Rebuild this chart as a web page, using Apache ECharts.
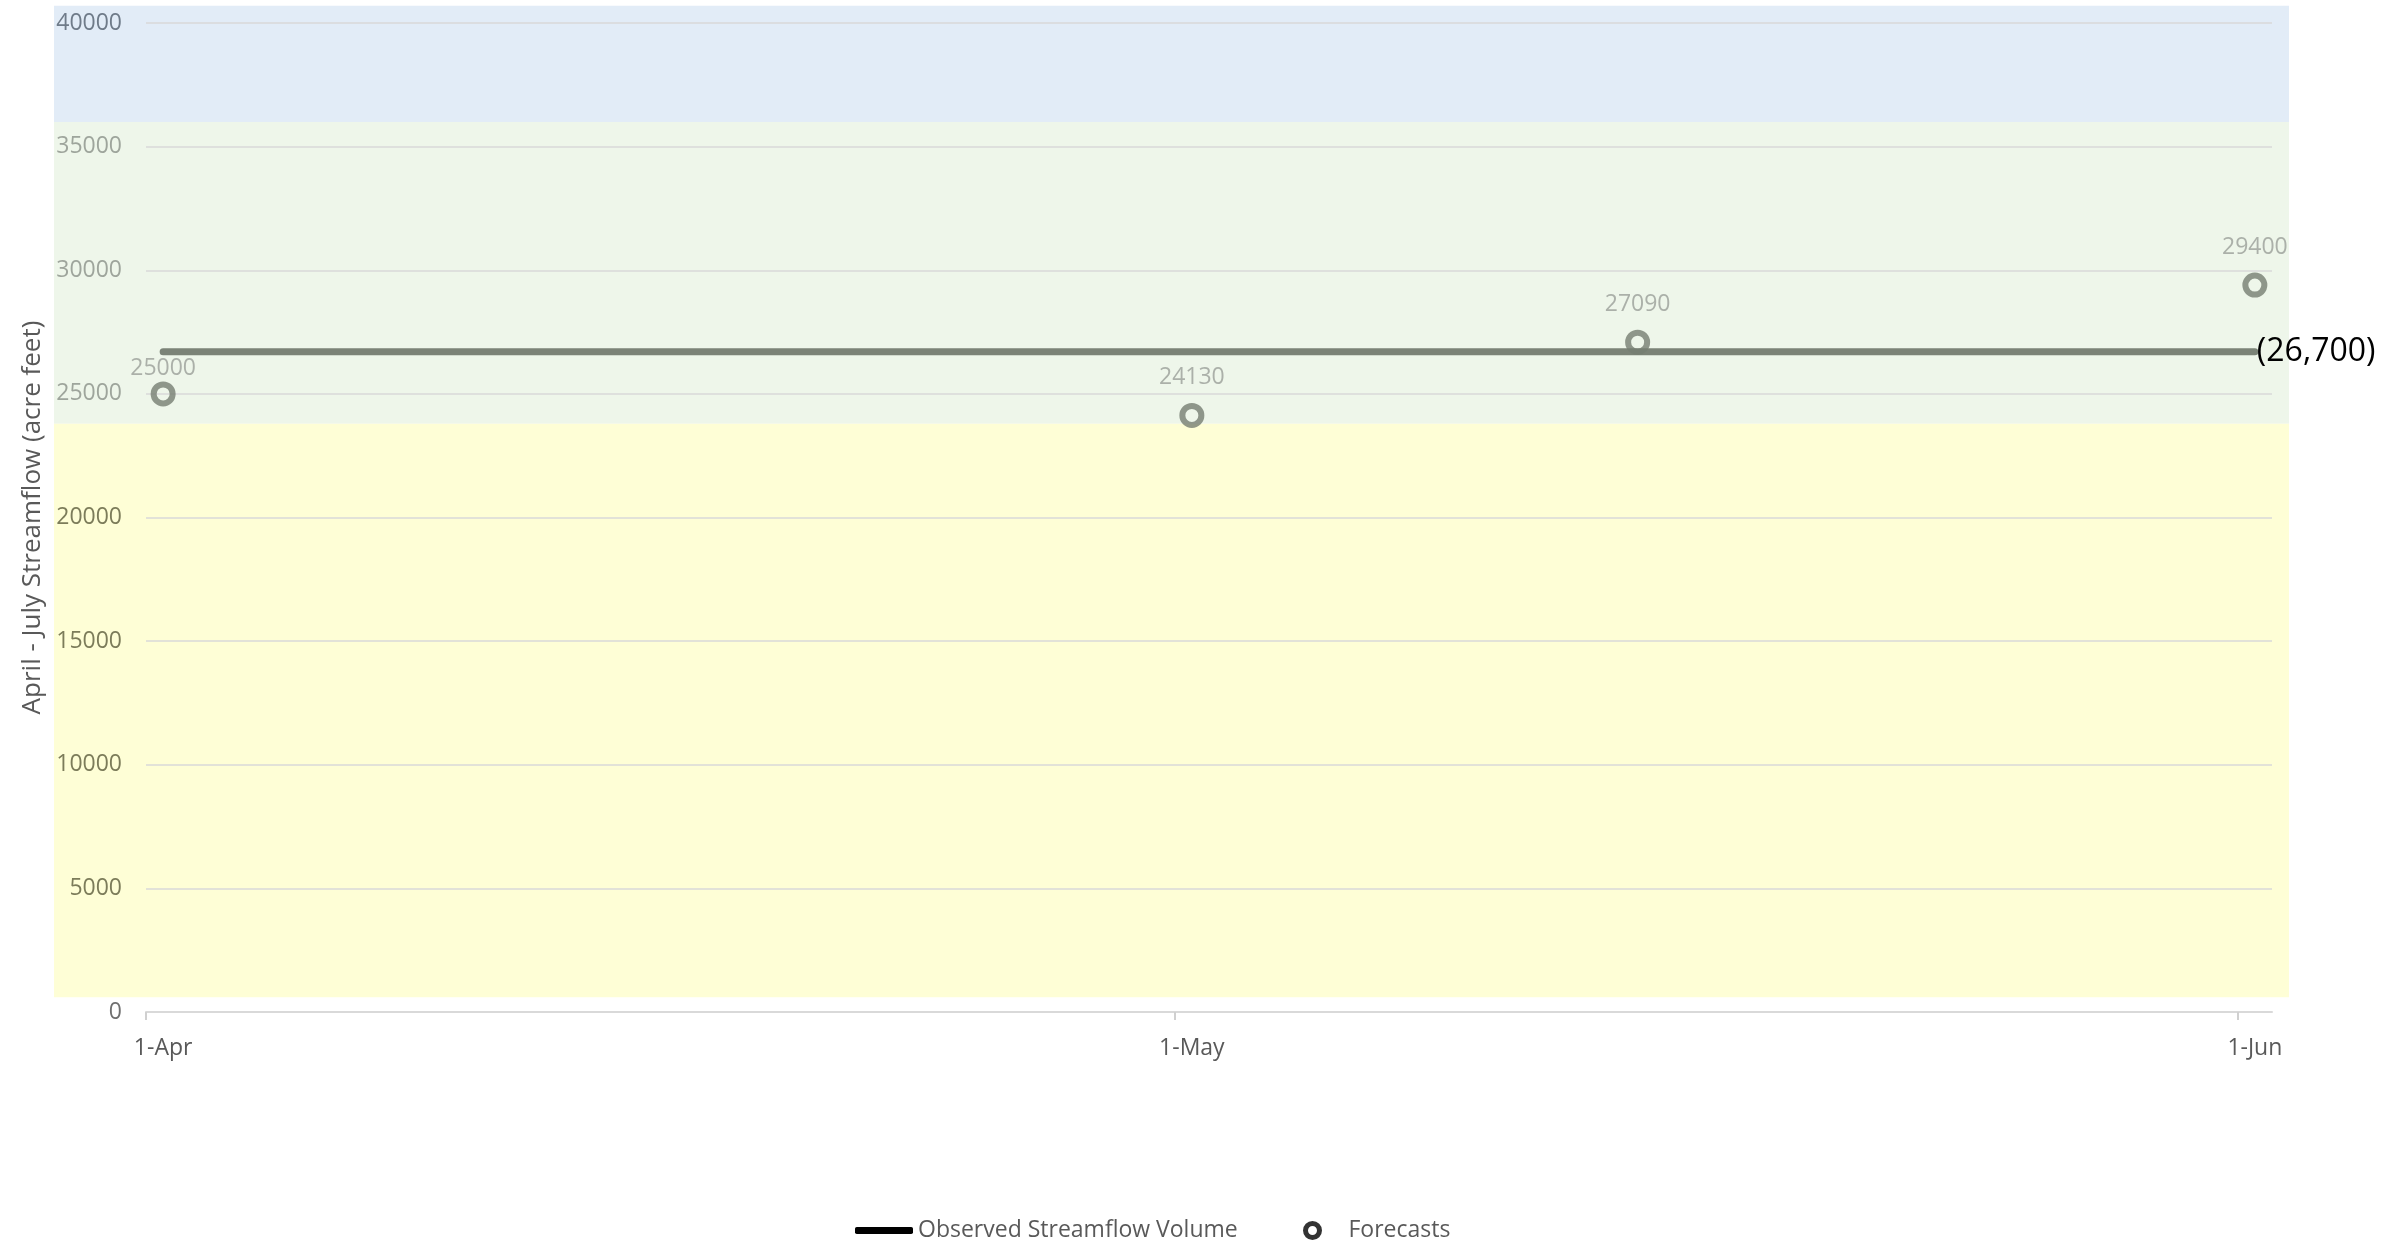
<!DOCTYPE html>
<html>
<head>
<meta charset="utf-8">
<script src="https://cdn.jsdelivr.net/npm/echarts@6/dist/echarts.min.js"></script>
<style>html,body{margin:0;padding:0;background:#fff}#c{width:2387px;height:1240px}</style>
</head>
<body>
<div id="c"></div>
<script>
// ---- data ----
const tickDates = ['2023-04-01', '2023-05-01', '2023-06-01'];
const tickLabels = ['1-Apr', '1-May', '1-Jun'];
const axisEndDate = '2023-06-02';
const forecastDates = ['2023-04-01', '2023-05-01', '2023-05-14', '2023-06-01'];
const forecastValues = [25000, 24130, 27090, 29400];
const observedDates = ['2023-04-01', '2023-06-01'];
const observedValues = [26700, 26700];
const yMin = 0, yMax = 40000, yStep = 5000;
const bandLower = [600, 23800, 36000];
const bandUpper = [23800, 36000, 40700];

// ---- style ----
const bandColors = ['#fefed6', '#eef6ea', '#e2ecf7'];
const bandLabelColors = ['#7c7c5a', '#9ea59c', '#6f7b89'];
const font = 'Open Sans';
const DAY = 86400000, HALF = DAY / 2;
const ms = d => Date.parse(d + 'T00:00:00Z');

const grid = {left: 146, right: 115, top: 23, bottom: 228};
const H = 1240;
const plotTop = grid.top, plotBottom = H - grid.bottom;
const ppu = (plotBottom - plotTop) / (yMax - yMin);
const bMin = Math.min(...bandLower), bMax = Math.max(...bandUpper);
const bandGrid = {
  left: 54, right: 98,
  top: plotTop - (bMax - yMax) * ppu,
  bottom: H - (plotBottom - (bMin - yMin) * ppu)
};

const tickMs = tickDates.map(ms);
const labelMs = tickMs.map(t => t + HALF);

function yLabelColor(v) {
  v = +v;
  for (let i = 0; i < bandLower.length; i++) {
    if (v >= bandLower[i] && v <= bandUpper[i]) return bandLabelColors[i];
  }
  return '#707070';
}

const chart = echarts.init(document.getElementById('c'));
chart.setOption({
  animation: false,
  textStyle: {fontFamily: font},
  grid: [grid, bandGrid],
  xAxis: [{
    type: 'value', gridIndex: 0,
    min: tickMs[0], max: ms(axisEndDate),
    axisLine: {show: true, lineStyle: {color: '#d9d9d9', width: 2}},
    axisTick: {show: true, customValues: tickMs, length: 8, lineStyle: {color: '#d0d0d0', width: 2}},
    axisLabel: {
      customValues: labelMs, margin: 25, fontSize: 23, color: '#595959',
      formatter: v => { const i = labelMs.findIndex(t => Math.abs(t - v) < 1000); return i >= 0 ? tickLabels[i] : ''; }
    },
    splitLine: {show: false}
  }, {
    type: 'value', gridIndex: 1, min: 0, max: 1, show: false
  }],
  yAxis: [{
    type: 'value', gridIndex: 0, min: yMin, max: yMax, interval: yStep,
    name: 'April - July Streamflow (acre feet)', nameLocation: 'middle', nameGap: 98,
    nameTextStyle: {fontSize: 26, color: '#595959', fontFamily: font},
    axisLine: {show: false}, axisTick: {show: false},
    axisLabel: {margin: 24, fontSize: 23, color: yLabelColor, formatter: v => String(v)},
    splitLine: {show: true, lineStyle: {color: '#d9d9d9', width: 1.5}}
  }, {
    type: 'value', gridIndex: 1, min: bMin, max: bMax, show: false
  }],
  legend: [{
    left: 855, top: 1219, padding: 0, itemWidth: 58, itemHeight: 7,
    textStyle: {fontSize: 23, color: '#595959', fontFamily: font},
    data: [{name: 'Observed Streamflow Volume', icon: 'roundRect', itemStyle: {color: '#000'}}]
  }, {
    left: 1303, top: 1219, padding: 0, itemWidth: 62, itemHeight: 14,
    textStyle: {fontSize: 23, color: '#595959', fontFamily: font},
    data: [{name: 'Forecasts', icon: 'circle', itemStyle: {color: '#fff', borderColor: '#000', borderWidth: 5}}]
  }],
  series: [{
    type: 'line', name: 'bands', xAxisIndex: 1, yAxisIndex: 1, data: [], silent: true, z: -1,
    markArea: {
      silent: true, z: -1,
      data: bandLower.map((lo, i) => [
        {xAxis: 0, yAxis: lo, itemStyle: {color: bandColors[i], opacity: 1}},
        {xAxis: 1, yAxis: bandUpper[i]}
      ])
    }
  }, {
    type: 'line', name: 'Observed Streamflow Volume',
    data: observedDates.map((d, i) => [ms(d) + HALF, observedValues[i]]),
    showSymbol: false, symbol: 'none', z: 3,
    lineStyle: {color: '#7b8377', width: 7, cap: 'round'},
    itemStyle: {color: '#7b8377'},
    endLabel: {
      show: true, distance: 2, fontSize: 32, color: '#000', fontFamily: font,
      formatter: p => '(' + p.value[1].toLocaleString('en-US') + ')'
    }
  }, {
    type: 'scatter', name: 'Forecasts', z: 4,
    data: forecastDates.map((d, i) => {
      const item = {value: [ms(d) + HALF, forecastValues[i]]};
      if (i === 0) item.label = {distance: 1};
      return item;
    }),
    symbol: 'circle', symbolSize: 19,
    itemStyle: {color: 'rgba(0,0,0,0)', borderColor: '#767e72', borderWidth: 6},
    label: {
      show: true, position: 'top', distance: 14, fontSize: 23, color: '#9a9f99', fontFamily: font,
      formatter: p => String(p.value[1])
    }
  }]
});
</script>
</body>
</html>
